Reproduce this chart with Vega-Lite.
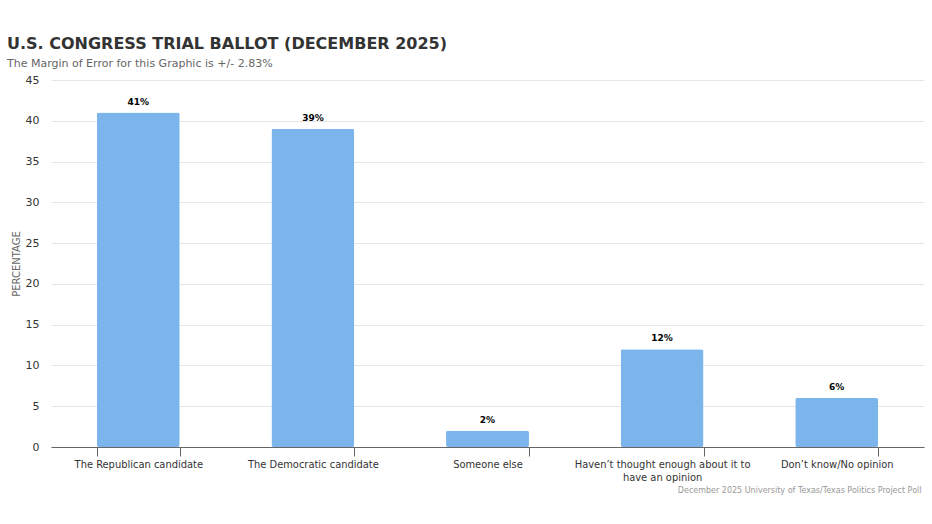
{
  "$schema": "https://vega.github.io/schema/vega-lite/v6.json",
  "width": 932,
  "height": 524,
  "autosize": {"type": "fit", "contains": "padding"},
  "padding": {"left": 7, "top": 36, "right": 8, "bottom": 30},
  "background": "white",
  "title": {
    "text": "U.S. CONGRESS TRIAL BALLOT (DECEMBER 2025)",
    "subtitle": "The Margin of Error for this Graphic is +/- 2.83%",
    "anchor": "start",
    "frame": "group",
    "font": "DejaVu Sans",
    "fontSize": 16,
    "fontWeight": "bold",
    "color": "#333333",
    "subtitleFont": "DejaVu Sans",
    "subtitleFontSize": 11,
    "subtitleColor": "#666666",
    "subtitlePadding": 6,
    "offset": 5,
    "dx": -44
  },
  "data": {
    "values": [
      {"response": "The Republican candidate", "pct": 41},
      {"response": "The Democratic candidate", "pct": 39},
      {"response": "Someone else", "pct": 2},
      {"response": "Haven’t thought enough about it to have an opinion", "pct": 12},
      {"response": "Don’t know/No opinion", "pct": 6}
    ]
  },
  "encoding": {
    "x": {
      "field": "response",
      "type": "nominal",
      "sort": null,
      "scale": {"paddingInner": 0.525, "paddingOuter": 0.2625},
      "axis": {
        "title": "December 2025 University of Texas/Texas Politics Project Poll",
        "titleAnchor": "end",
        "titleAlign": "right",
        "titleX": 870,
        "titleFont": "DejaVu Sans",
        "titleFontSize": 8,
        "titleFontWeight": "normal",
        "titleColor": "#999999",
        "titlePadding": 4,
        "labelAngle": 0,
        "labelFont": "DejaVu Sans Condensed",
        "labelFontSize": 11,
        "labelColor": "#333333",
        "labelPadding": 2,
        "labelExpr": "datum.value == 'Haven’t thought enough about it to have an opinion' ? ['Haven’t thought enough about it to', 'have an opinion'] : datum.value",
        "tickBand": "extent",
        "tickColor": "#666666",
        "tickSize": 9,
        "domainColor": "#666666",
        "grid": false
      }
    },
    "y": {
      "field": "pct",
      "type": "quantitative",
      "scale": {"domain": [0, 45]},
      "axis": {
        "title": "PERCENTAGE",
        "titleFont": "DejaVu Sans",
        "titleFontSize": 10,
        "titleFontWeight": "normal",
        "titleColor": "#666666",
        "titlePadding": 4,
        "values": [0, 5, 10, 15, 20, 25, 30, 35, 40, 45],
        "labelFont": "DejaVu Sans",
        "labelFontSize": 11,
        "labelColor": "#333333",
        "labelPadding": 12,
        "domain": false,
        "ticks": false,
        "gridColor": "#e6e6e6"
      }
    }
  },
  "layer": [
    {
      "mark": {"type": "bar", "color": "#7cb5ec", "cornerRadius": 2}
    },
    {
      "transform": [{"calculate": "datum.pct + '%'", "as": "label"}],
      "mark": {
        "type": "text",
        "baseline": "bottom",
        "dy": -6,
        "font": "DejaVu Sans",
        "fontSize": 9,
        "fontWeight": "bold",
        "color": "#000000"
      },
      "encoding": {
        "text": {"field": "label", "type": "nominal"}
      }
    }
  ],
  "config": {"view": {"stroke": null}}
}
